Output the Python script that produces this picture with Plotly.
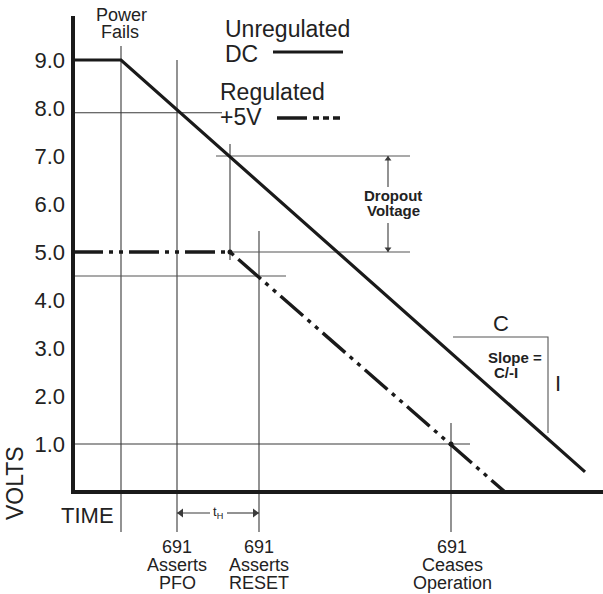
import plotly.graph_objects as go

# ---------------- data (time in arbitrary units, volts) ----------------
unreg_t = [0, 48, 512]
unreg_v = [9.0, 9.0, 0.42]
reg_t = [0, 157, 432]
reg_v = [5.0, 5.0, 0.0]
ytick_vals = [1, 2, 3, 4, 5, 6, 7, 8, 9]
ytick_text = ["1.0", "2.0", "3.0", "4.0", "5.0", "6.0", "7.0", "8.0", "9.0"]

t_power_fail = 48
t_pfo = 104
t_dropout = 157
t_reset = 186
t_cease = 378
v_pfo = 7.9
v_dropout_top = 7.0
v_reg = 5.0
v_reset = 4.5
v_cease = 1.0

# ---------------- figure geometry ----------------
W, H = 603, 594
ML = 66
X0 = ML - 73          # data t=0 sits at pixel 73
XR = [X0, X0 + (W - ML)]
PPV = 48.0            # pixels per volt
Y0PX = 492            # pixel row of 0 V
YR = [(Y0PX - H) / PPV, Y0PX / PPV]

def vy(py):
    return (Y0PX - py) / PPV

def tx(px):
    return px - 73

FONT = "Liberation Sans, Arial, sans-serif"
INK = "#1a1a1a"
THIN = "#3a3a3a"

fig = go.Figure()

def seg(xs, ys, color=THIN, width=1.1, dash="solid"):
    fig.add_trace(go.Scatter(x=xs, y=ys, mode="lines", hoverinfo="skip",
                             line=dict(color=color, width=width, dash=dash),
                             showlegend=False))

def heads(xs, ys, symbols, size=8, color=THIN):
    fig.add_trace(go.Scatter(x=xs, y=ys, mode="markers", hoverinfo="skip",
                             marker=dict(symbol=symbols, size=size, color=color,
                                         line=dict(width=0)),
                             showlegend=False))

vb = vy(532)
# vertical reference lines
seg([t_power_fail, t_power_fail], [vy(46), vb])
seg([t_pfo, t_pfo], [9.0, vb])
seg([t_dropout, t_dropout], [vy(144), vy(260)])
seg([t_reset, t_reset], [vy(231), vb])
seg([t_cease, t_cease], [vy(423), vb])
# horizontal reference lines
seg([0, tx(222)], [v_pfo, v_pfo])
seg([tx(216), tx(410)], [v_dropout_top, v_dropout_top], color="#555")
seg([tx(228), tx(410)], [v_reg, v_reg], color="#555")
seg([0, tx(286)], [v_reset, v_reset], color="#555")
seg([0, tx(470)], [v_cease, v_cease])
# slope triangle
seg([tx(453), tx(548), tx(548)], [vy(337), vy(337), vy(433)], color="#555")

# axes
seg([0, 0], [vy(16), 0], color=INK, width=4)
seg([-2, XR[1]], [0, 0], color=INK, width=4)

DASHDOT = "30px,6px,4px,6px,4px,6px"
# data series
fig.add_trace(go.Scatter(x=unreg_t, y=unreg_v, mode="lines", name="Unregulated DC",
                         line=dict(color=INK, width=3.2), showlegend=False))
fig.add_trace(go.Scatter(x=reg_t, y=reg_v, mode="lines", name="Regulated +5V",
                         line=dict(color=INK, width=3.4, dash=DASHDOT), showlegend=False))
# key samples
seg([tx(273), tx(343)], [vy(52), vy(52)], color=INK, width=3.2)
seg([tx(277), tx(343)], [vy(118), vy(118)], color=INK, width=3.4,
    dash="30px,6px,6px,4px,6px,4px,7px")
# dots
fig.add_trace(go.Scatter(x=[t_dropout, t_cease], y=[v_reg, v_cease], mode="markers",
                         marker=dict(color=INK, size=5), hoverinfo="skip", showlegend=False))

def txt(px, baseline, s, size, bold=False, xanchor="center", angle=0):
    yc = baseline - 0.35 * size
    fig.add_annotation(x=tx(px), y=vy(yc), text=("<b>%s</b>" % s) if bold else s,
                       showarrow=False, xanchor=xanchor, yanchor="middle",
                       font=dict(family=FONT, size=size, color="#222"), textangle=angle)

def ptxt(px, yc_px, s, size, xanchor="center", angle=0):
    # label placed left of the plotting area (paper x reference)
    fig.add_annotation(x=(px - ML) / (W - ML), xref="paper", y=vy(yc_px), text=s,
                       showarrow=False, xanchor=xanchor, yanchor="middle",
                       font=dict(family=FONT, size=size, color="#222"), textangle=angle)

txt(121, 21, "Power", 18)
txt(120, 38, "Fails", 18)
txt(223, 37, "Unregulated", 23, xanchor="left")
txt(223, 62, "DC", 23, xanchor="left")
txt(218, 100, "Regulated", 23, xanchor="left")
txt(218, 125, "+5V", 23, xanchor="left")
txt(393, 201, "Dropout", 15, bold=True)
txt(393, 216, "Voltage", 15, bold=True)
txt(501, 331, "C", 22)
txt(486, 363, "Slope =", 15, bold=True, xanchor="left")
txt(492, 378, "C/-I", 15, bold=True, xanchor="left")
txt(558, 391, "I", 22)
ptxt(59, 523 - 0.35 * 22, "TIME", 22, xanchor="left")
ptxt(15, 483, "VOLTS", 23, angle=-90)
for px, lines in [(177, ["691", "Asserts", "PFO"]),
                  (259, ["691", "Asserts", "RESET"]),
                  (452, ["691", "Ceases", "Operation"])]:
    for i, s in enumerate(lines):
        txt(px, 553 + 18 * i, s, 18)

# t_H dimension arrow
yt = vy(513)
txt(218, 517, "t<sub>H</sub>", 13)
seg([t_pfo, tx(210)], [yt, yt])
seg([tx(227), t_reset], [yt, yt])
heads([t_pfo + 4, t_reset - 4], [yt, yt], ["triangle-left", "triangle-right"], size=8)
# dropout dimension arrow
xd = tx(388)
seg([xd, xd], [v_dropout_top, vy(187)])
seg([xd, xd], [vy(223), v_reg])
heads([xd, xd], [v_dropout_top - 3 / PPV, v_reg + 3 / PPV],
      ["triangle-up", "triangle-down"], size=6)

fig.update_layout(
    width=W, height=H, margin=dict(l=ML, r=0, t=0, b=0, autoexpand=False),
    paper_bgcolor="white", plot_bgcolor="white",
    xaxis=dict(range=XR, visible=False),
    yaxis=dict(range=YR, tickvals=ytick_vals, ticktext=ytick_text, showgrid=False,
               zeroline=False, showline=False, ticks="", automargin=False,
               tickfont=dict(family=FONT, size=22, color="#222")),
)
fig.write_html("out.html", config={"displayModeBar": False},
               post_script="document.body.style.margin='0';")
